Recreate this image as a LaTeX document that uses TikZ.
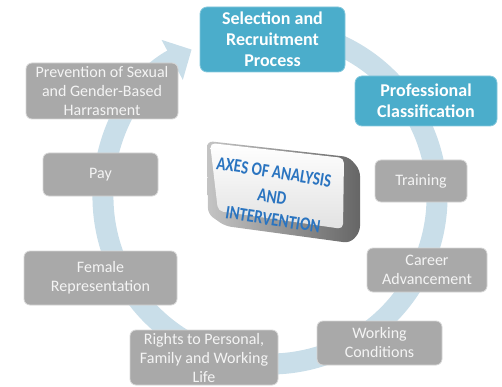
\documentclass[tikz,border=0pt]{standalone}
\usepackage{fontspec}
\setmainfont{Carlito}
\usetikzlibrary{arrows.meta}
\definecolor{ringc}{HTML}{C9DEE9}
\definecolor{tealfill}{HTML}{4BADCB}
\definecolor{tealedge}{HTML}{86C8DC}
\definecolor{grayfill}{HTML}{A9A9A9}
\definecolor{grayedge}{HTML}{D6D6D6}
\definecolor{graytext}{HTML}{F4F4F4}
\definecolor{keyblue}{HTML}{2A74C0}
\definecolor{keyl}{HTML}{C4C4C4}
\definecolor{keyr}{HTML}{666666}
\definecolor{keyface}{HTML}{E2E2E2}
\begin{document}
\begin{tikzpicture}[x=1pt,y=-1pt,
  graybox/.style={rectangle, rounded corners=6pt, fill=grayfill, draw=grayedge, line width=0.8pt,
    text=graytext, align=center, inner sep=0pt, font=\fontsize{16}{19}\selectfont},
  tealbox/.style={rectangle, rounded corners=7pt, fill=tealfill, draw=tealedge, line width=0.8pt,
    text=white, align=center, inner sep=0pt, font=\bfseries\fontsize{18}{21}\selectfont},
  keytext/.style={text=keyblue, inner sep=0pt, rotate=-9, text height=12.5pt, text depth=0pt,
    font=\bfseries\fontsize{19}{23}\selectfont}]
\useasboundingbox (0,0) rectangle (502,387);
% circular arrow
\coordinate (ringc) at (270,197);
\draw[ringc, line width=21pt, -{Triangle[length=22pt,width=44pt]}]
  (ringc) ++(-100:167) arc[start angle=-100, end angle=242, radius=167];
% boxes
\node[tealbox, minimum width=145pt, minimum height=65pt] (sel) at (272.5,39.5) {Selection and\\Recruitment\\Process};
\node[tealbox, minimum width=142pt, minimum height=50pt] (prof) at (426,101) {Professional\\Classification};
\node[graybox, minimum width=92pt, minimum height=42pt] (train) at (421,181) {Training};
\node[graybox, minimum width=120pt, minimum height=44pt] (career) at (427,270) {Career\\Advancement};
\node[graybox, minimum width=125pt, minimum height=44pt] (work) at (379.5,343) {Working\\Conditions};
\node[graybox, minimum width=148pt, minimum height=55pt] (rights) at (204,357.5) {Rights to Personal,\\Family and Working\\Life};
\node[graybox, minimum width=153pt, minimum height=54pt] (female) at (100.5,278) {Female\\Representation};
\node[graybox, minimum width=115pt, minimum height=43pt] (pay) at (100.5,174.5) {Pay};
\node[graybox, minimum width=152pt, minimum height=56pt] (prev) at (102,91) {Prevention of Sexual\\and Gender-Based\\Harrasment};
% central key
\path[rounded corners=6pt, left color=keyl, right color=keyr]
  (207,141) -- (349,157) -- (360,170) -- (360,232) -- (350,243) -- (225,226) -- (208,214) -- cycle;
\path[rounded corners=5pt, top color=white, bottom color=keyface]
  (210,143) -- (344,158) -- (343,229) -- (218,211) -- cycle;
\node[keytext] (axes1) at (274,172) {\scalebox{0.8}[1]{AXES OF ANALYSIS}};
\node[keytext] (axes2) at (272,197) {\scalebox{0.8}[1]{AND}};
\node[keytext] (axes3) at (273,219.5) {\scalebox{0.8}[1]{INTERVENTION}};
\end{tikzpicture}
\end{document}
